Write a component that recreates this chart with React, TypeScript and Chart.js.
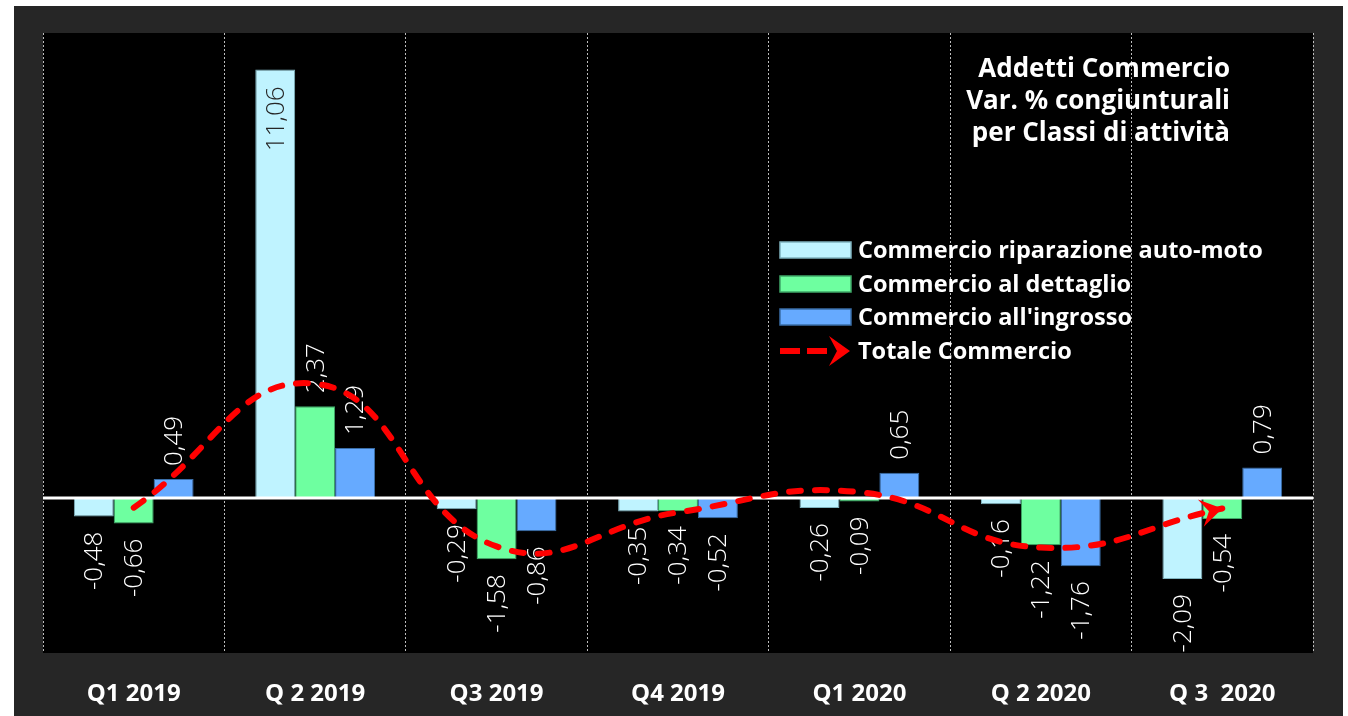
import React, { useEffect, useRef } from 'react';
import { Chart, registerables } from 'chart.js';

Chart.register(...registerables);

const categories = ['Q1 2019', 'Q 2 2019', 'Q3 2019', 'Q4 2019', 'Q1 2020', 'Q 2 2020', 'Q 3  2020'];
const autoMoto = [-0.48, 11.06, -0.29, -0.35, -0.26, -0.16, -2.09];
const dettaglio = [-0.66, 2.37, -1.58, -0.34, -0.09, -1.22, -0.54];
const ingrosso = [0.49, 1.29, -0.86, -0.52, 0.65, -1.76, 0.79];
const totale = [-0.25, 2.95, -1.25, -0.37, 0.15, -1.28, -0.27];
const seriesLabels = [
  'Commercio riparazione auto-moto',
  'Commercio al dettaglio',
  "Commercio all'ingrosso",
  'Totale Commercio',
];
const titleLines = ['Addetti Commercio', 'Var. % congiunturali', 'per Classi di attività'];

const FONT = '"Open Sans", "DejaVu Sans", sans-serif';
const RED = '#ff0000';

function drawArrow(ctx: CanvasRenderingContext2D, x: number, y: number, angle: number, L: number, W: number) {
  ctx.save();
  ctx.translate(x, y);
  ctx.rotate(angle);
  ctx.beginPath();
  ctx.moveTo(0, 0);
  ctx.lineTo(-L, -W);
  ctx.lineTo(-L * 0.62, 0);
  ctx.lineTo(-L, W);
  ctx.closePath();
  ctx.fillStyle = RED;
  ctx.fill();
  ctx.restore();
}

const fmt = (v: number) => v.toFixed(2).replace('.', ',');

const customPlugin = {
  id: 'custom',
  beforeDraw(chart: any) {
    const { ctx, chartArea } = chart;
    ctx.save();
    ctx.fillStyle = '#262626';
    ctx.fillRect(0, 0, chart.width, chart.height);
    ctx.fillStyle = '#000000';
    ctx.fillRect(chartArea.left, chartArea.top, chartArea.right - chartArea.left, chartArea.bottom - chartArea.top);
    ctx.restore();
  },
  afterDatasetDraw(chart: any, args: any) {
    const { ctx, chartArea } = chart;
    if (args.index === 0) {
      const y0 = chart.scales.y.getPixelForValue(0);
      ctx.save();
      ctx.strokeStyle = '#ffffff';
      ctx.lineWidth = 3;
      ctx.beginPath();
      ctx.moveTo(chartArea.left, y0);
      ctx.lineTo(chartArea.right, y0);
      ctx.stroke();
      ctx.restore();
      ctx.save();
      ctx.font = '300 26px ' + FONT;
      ctx.textBaseline = 'middle';
      for (let d = 0; d < 3; d++) {
        const meta = chart.getDatasetMeta(d);
        const vals = chart.data.datasets[d].data as number[];
        meta.data.forEach((bar: any, i: number) => {
          const v = vals[i];
          const txt = fmt(v);
          const w = ctx.measureText(txt).width;
          ctx.save();
          ctx.translate(bar.x, bar.y);
          ctx.rotate(-Math.PI / 2);
          if (v >= 0) {
            if (bar.y - 14 - w < chartArea.top) {
              ctx.fillStyle = '#262626';
              ctx.textAlign = 'right';
              ctx.fillText(txt, -17, 1);
            } else {
              ctx.fillStyle = '#ffffff';
              ctx.textAlign = 'left';
              ctx.fillText(txt, 13, 1);
            }
          } else {
            ctx.fillStyle = '#ffffff';
            ctx.textAlign = 'right';
            ctx.fillText(txt, -15, 1);
          }
          ctx.restore();
        });
      }
      ctx.restore();
    }
    if (args.index === 3) {
      const meta = chart.getDatasetMeta(3);
      const pts = meta.data;
      const last = pts[pts.length - 1];
      const ang = Math.atan2(last.y - last.cp1y, last.x - last.cp1x);
      drawArrow(ctx, last.x, last.y, ang, 22, 14);
    }
  },
  afterDraw(chart: any) {
    const { ctx } = chart;
    ctx.save();
    ctx.fillStyle = '#ffffff';
    ctx.font = 'bold 26px ' + FONT;
    ctx.textAlign = 'right';
    ctx.textBaseline = 'alphabetic';
    titleLines.forEach((t, i) => ctx.fillText(t, 1216, 71 + i * 32));
    const ds = chart.data.datasets;
    const rows = [244, 278, 311, 345];
    ctx.font = 'bold 23.5px ' + FONT;
    ctx.textAlign = 'left';
    ctx.textBaseline = 'middle';
    for (let i = 0; i < 3; i++) {
      ctx.fillStyle = ds[i].backgroundColor;
      ctx.fillRect(766, rows[i] - 8, 71, 16);
      ctx.strokeStyle = ds[i].borderColor;
      ctx.lineWidth = 1.5;
      ctx.strokeRect(766, rows[i] - 8, 71, 16);
      ctx.fillStyle = '#ffffff';
      ctx.fillText(ds[i].label, 844, rows[i] + 1);
    }
    ctx.strokeStyle = RED;
    ctx.lineWidth = 6;
    ctx.setLineDash([20, 7]);
    ctx.beginPath();
    ctx.moveTo(766, rows[3]);
    ctx.lineTo(820, rows[3]);
    ctx.stroke();
    ctx.setLineDash([]);
    drawArrow(ctx, 836, rows[3], 0, 21, 15);
    ctx.fillStyle = '#ffffff';
    ctx.fillText(ds[3].label, 844, rows[3] + 1);
    ctx.restore();
  },
};

export default function App() {
  const ref = useRef<HTMLCanvasElement>(null);
  useEffect(() => {
    const chart = new Chart(ref.current as HTMLCanvasElement, {
      type: 'bar',
      data: {
        labels: categories,
        datasets: [
          {
            label: seriesLabels[0],
            data: autoMoto,
            backgroundColor: '#bff3ff',
            borderColor: '#7fb3bf',
            borderWidth: 1,
            borderSkipped: false,
            categoryPercentage: 0.66,
            barPercentage: 1.0,
          },
          {
            label: seriesLabels[1],
            data: dettaglio,
            backgroundColor: '#6effa0',
            borderColor: '#3fa868',
            borderWidth: 1,
            borderSkipped: false,
            categoryPercentage: 0.66,
            barPercentage: 1.0,
          },
          {
            label: seriesLabels[2],
            data: ingrosso,
            backgroundColor: '#66aaff',
            borderColor: '#3a6ea8',
            borderWidth: 1,
            borderSkipped: false,
            categoryPercentage: 0.66,
            barPercentage: 1.0,
          },
          {
            type: 'line',
            label: seriesLabels[3],
            data: totale,
            borderColor: RED,
            backgroundColor: RED,
            borderWidth: 6,
            borderDash: [12, 14],
            borderCapStyle: 'round',
            tension: 0.45,
            pointRadius: 0,
            fill: false,
            order: -1,
          } as any,
        ],
      },
      options: {
        responsive: false,
        animation: false,
        layout: { padding: { left: 29, right: 30, top: 27, bottom: 0 } },
        plugins: {
          legend: { display: false },
          title: { display: false },
          tooltip: { enabled: false },
        },
        scales: {
          x: {
            offset: true,
            afterFit: (scale: any) => {
              scale.height = 63;
            },
            grid: {
              offset: true,
              color: '#bdbdbd',
              lineWidth: 1,
              drawTicks: false,
            },
            border: { display: false, dash: [2, 2] },
            ticks: {
              color: '#ffffff',
              padding: 27,
              maxRotation: 0,
              font: { family: FONT, weight: 'bold', size: 24 },
            },
          },
          y: {
            display: false,
            min: -4,
            max: 12,
          },
        },
      },
      plugins: [customPlugin],
    });
    return () => chart.destroy();
  }, []);
  return (
    <div style={{ position: 'fixed', left: 0, top: 0, width: 1348, height: 716, background: '#ffffff' }}>
      <div style={{ position: 'absolute', left: 14, top: 6, width: 1329, height: 710 }}>
        <canvas ref={ref} width={1329} height={710} style={{ display: 'block' }} />
      </div>
    </div>
  );
}
